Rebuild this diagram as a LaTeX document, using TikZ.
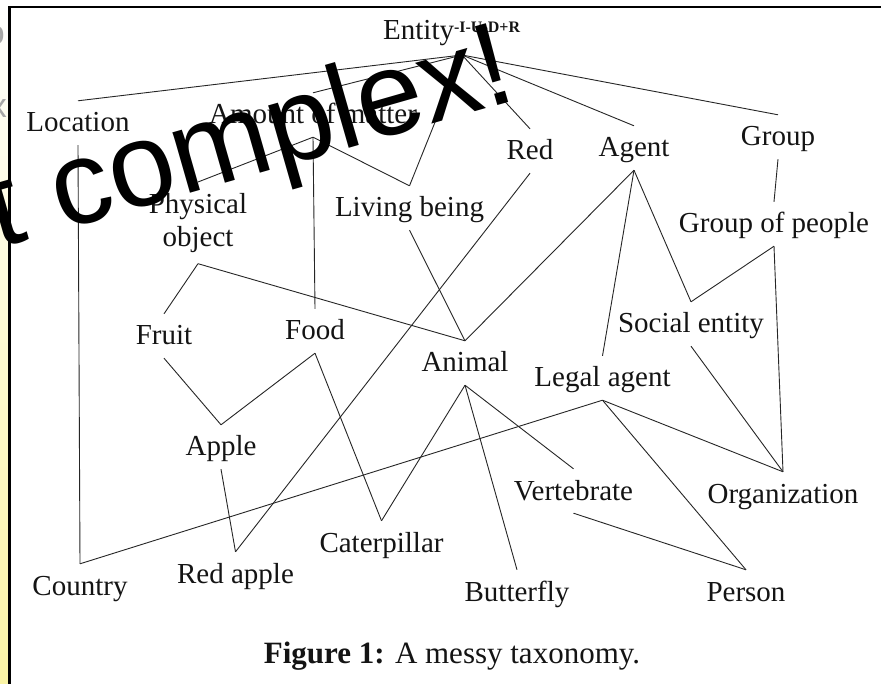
\documentclass[tikz,border=0pt]{standalone}
\usepackage{fontspec}
\setmainfont{Liberation Serif}
\newfontfamily\shoutfont{Liberation Sans}
\definecolor{stripyellow}{RGB}{250,244,165}
\begin{document}
\begin{tikzpicture}[x=1pt,y=-1pt,
  lbl/.style={font=\fontsize{29}{33}\selectfont, anchor=base, inner xsep=0pt,
    inner ysep=4pt, text height=27pt, text depth=9pt, text=black!92},
  link/.style={draw=black!85, line width=0.9pt},
  ghost/.style={font=\shoutfont\fontsize{34}{34}\selectfont, text=black!35, inner sep=0pt, anchor=base east},
]
\useasboundingbox (0,0) rectangle (881,684);
\fill[white] (0,0) rectangle (881,684);
% slide edge on the left, with the clipped ends of its grey lettering
\shade[top color=white, middle color=white, bottom color=stripyellow] (0,0) rectangle (9,684);
\node[ghost] (ghosta) at (5,45) {o};
\node[ghost] (ghostb) at (7,118) {x};
\node[ghost] (ghostc) at (5,196) {l+};
% frame
\draw[line width=3pt] (9.5,684) -- (9.5,6.5);
\draw[line width=2pt] (8,7.5) -- (881,7.5);

% concepts
\node[font=\fontsize{29}{33}\selectfont, anchor=base west, inner sep=0pt, text=black!92] (entity) at (383,40)
  {Entity\raisebox{7pt}{\fontsize{16}{16}\selectfont\bfseries -I-U-D+R}};
\coordinate (entityhub) at (462,55);
\node[lbl] (location) at (78,132) {Location};
\node[lbl] (amount) at (313,124) {Amount of matter};
\node[lbl] (red) at (530,160) {Red};
\node[lbl] (agent) at (634,157) {Agent};
\node[lbl] (group) at (778,146) {Group};
\node[font=\fontsize{29}{33}\selectfont, align=center, anchor=north, inner xsep=0pt,
  inner ysep=11pt, text=black!92] (physical) at (198,182) {Physical\\object};
\node[lbl] (living) at (409.5,217) {Living being};
\node[lbl] (people) at (774,233) {Group of people};
\node[lbl] (fruit) at (164,345) {Fruit};
\node[lbl] (food) at (315,340) {Food};
\node[lbl] (animal) at (465,372) {Animal};
\node[lbl] (social) at (691,333) {Social entity};
\node[lbl] (legal) at (602.5,387) {Legal agent};
\node[lbl] (apple) at (221,456) {Apple};
\node[lbl] (vertebrate) at (573.5,500) {Vertebrate};
\node[lbl] (organization) at (783,503) {Organization};
\node[lbl] (caterpillar) at (381.5,552) {Caterpillar};
\node[lbl] (country) at (80,595) {Country};
\node[lbl] (redapple) at (235.5,583) {Red apple};
\node[lbl] (butterfly) at (517,601) {Butterfly};
\node[lbl] (person) at (746,601) {Person};

% subsumption links
\draw[link] (entityhub) -- (location.north);
\draw[link] (entityhub) -- (amount.north);
\draw[link] (entityhub) -- (living.north);
\draw[link] (entityhub) -- (red.north);
\draw[link] (entityhub) -- (agent.north);
\draw[link] (entityhub) -- (group.north);
\draw[link] (amount.south) -- (physical.north);
\draw[link] (amount.south) -- (food.north);
\draw[link] (amount.south) -- (living.north);
\draw[link] (location.south) -- (country.north);
\draw[link] (physical.south) -- (fruit.north);
\draw[link] (physical.south) -- (animal.north);
\draw[link] (living.south) -- (animal.north);
\draw[link] (red.south) -- (redapple.north);
\draw[link] (agent.south) -- (animal.north);
\draw[link] (agent.south) -- (legal.north);
\draw[link] (agent.south) -- (social.north);
\draw[link] (group.south) -- (people.north);
\draw[link] (people.south) -- (social.north);
\draw[link] (people.south) -- (organization.north);
\draw[link] (fruit.south) -- (apple.north);
\draw[link] (food.south) -- (apple.north);
\draw[link] (food.south) -- (caterpillar.north);
\draw[link] (apple.south) -- (redapple.north);
\draw[link] (animal.south) -- (caterpillar.north);
\draw[link] (animal.south) -- (butterfly.north);
\draw[link] (animal.south) -- (vertebrate.north);
\draw[link] (social.south) -- (organization.north);
\draw[link] (legal.south) -- (country.north);
\draw[link] (legal.south) -- (organization.north);
\draw[link] (legal.south) -- (person.north);
\draw[link] (vertebrate.south) -- (person.north);

% caption
\node[font=\fontsize{31}{35}\selectfont, anchor=base, inner sep=0pt, text=black!92] (caption) at (452,663)
  {\textbf{Figure 1:} A messy taxonomy.};

% overlaid remark
\node[font=\shoutfont\fontsize{119}{119}\selectfont, rotate=16, anchor=base east, inner sep=0pt] (remark)
  at (520,99) {t complex!};
\end{tikzpicture}
\end{document}
